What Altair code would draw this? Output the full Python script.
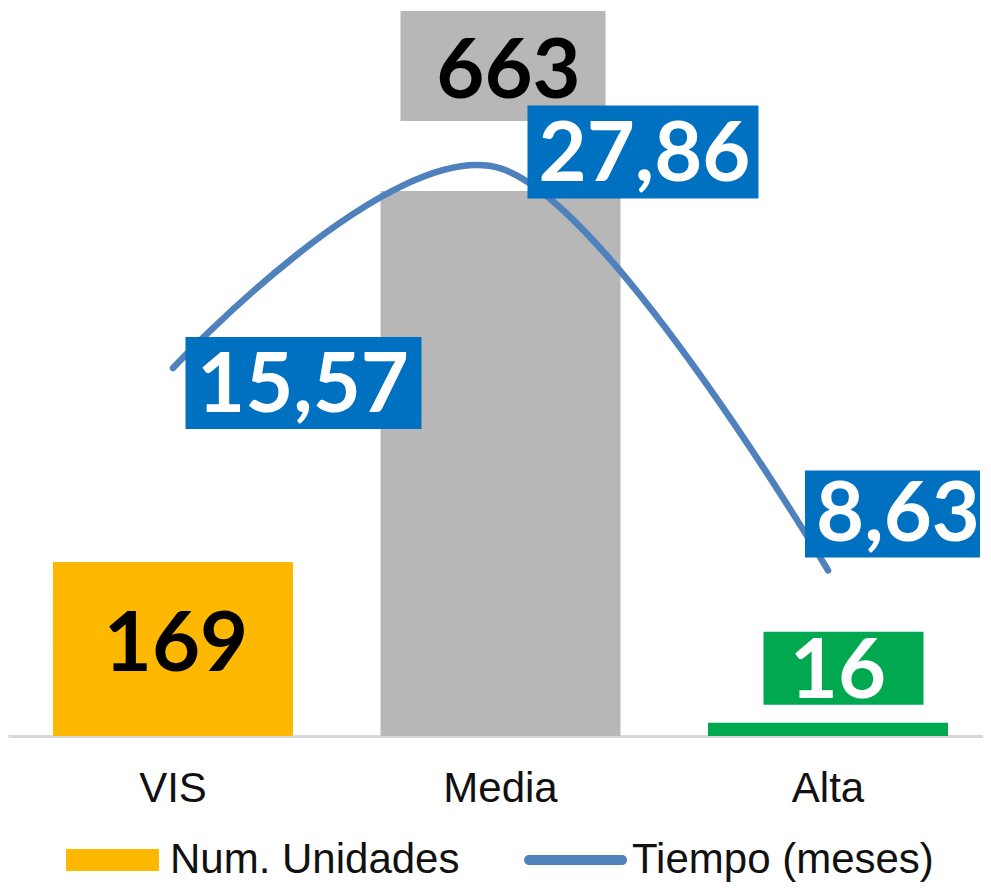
import altair as alt
import pandas as pd

# ---------------- data ----------------
categorias = ["VIS", "Media", "Alta"]
num_unidades = [169, 663, 16]
tiempo_meses = [15.57, 27.86, 8.63]
texto_unidades = ["169", "663", "16"]
texto_tiempo = ["15,57", "27,86", "8,63"]
colores_barras = ["#FFB800", "#B7B7B7", "#00A850"]
series = ["Num. Unidades", "Tiempo (meses)"]
colores_series = ["#FFB800", "#4F81BD"]

df = pd.DataFrame({
    "idx": list(range(len(categorias))),
    "categoria": categorias,
    "unidades": num_unidades,
    "meses": tiempo_meses,
    "txt_u": texto_unidades,
    "txt_m": texto_tiempo,
    "color": colores_barras,
})

# legend-only rows (drawn outside the plot and clipped away)
df_ley = pd.DataFrame({"serie": series, "categoria": ["VIS", "VIS"], "unidades": [-1000, -1000]})

# ---------------- styles (label boxes, offsets in px) ----------------
est_unid = [
    dict(bx=0, bw=240, top=-35, bot=45, tx=3, ty=74, col="#000000"),
    dict(bx=2.5, bw=205, top=-180, bot=-70, tx=8, ty=-93, col="#000000"),
    dict(bx=15.5, bw=160, top=-91, bot=-18, tx=10, ty=-25, col="#FFFFFF"),
]
est_mes = [
    dict(bx=130.5, bw=236, top=-31, bot=61, tx=130, ty=44),
    dict(bx=142.5, bw=231, top=-63, bot=30, tx=144, ty=13),
    dict(bx=64.5, bw=175, top=-100, bot=-13, tx=70, ty=-29),
]
AZUL_ETQ = "#0070C0"
FUENTE_ETQ = "Lato"
TAM_ETQ = 83

x_enc = alt.X(
    "categoria:N",
    sort=categorias,
    scale=alt.Scale(paddingInner=0.2672, paddingOuter=0.1221, align=0.5625),
    axis=alt.Axis(
        title=None, labelAngle=0, labelFont="Liberation Sans", labelFontSize=42,
        labelColor="#111111", labelPadding=32, ticks=False, tickSize=0,
        domainColor="#D9D9D9", domainWidth=3, grid=False,
    ),
)
y_u = alt.Y("unidades:Q", scale=alt.Scale(domain=[0, 882], nice=False, zero=True), axis=None)
y_m = alt.Y("meses:Q", scale=alt.Scale(type="log", domain=[5.326, 44.09], nice=False), axis=None)

barras = alt.Chart(df).mark_bar(strokeWidth=0).encode(
    x=x_enc, y=y_u, fill=alt.Fill("color:N", scale=None)
)

capas_barras = [barras]
for i, st in enumerate(est_unid):
    base = alt.Chart(df).transform_filter(alt.datum.categoria == categorias[i])
    caja = base.mark_bar(width=st["bw"], xOffset=st["bx"], yOffset=st["top"], y2Offset=st["bot"],
                         strokeWidth=0).encode(
        x=x_enc, y=y_u, y2=alt.Y2("unidades:Q"), fill=alt.Fill("color:N", scale=None)
    )
    txt = base.mark_text(dx=st["tx"], dy=st["ty"], baseline="alphabetic", align="center",
                         font=FUENTE_ETQ, fontWeight="bold", fontSize=TAM_ETQ, color=st["col"]).encode(
        x=x_enc, y=y_u, text="txt_u:N"
    )
    capas_barras += [caja, txt]

linea = alt.Chart(df).mark_line(interpolate="cardinal", tension=0, strokeWidth=6.5, strokeCap="round",
                                color="#4F81BD").encode(x=x_enc, y=y_m, order="idx:Q")
capas_linea = [linea]
for i, st in enumerate(est_mes):
    base = alt.Chart(df).transform_filter(alt.datum.categoria == categorias[i])
    caja = base.mark_bar(width=st["bw"], xOffset=st["bx"], yOffset=st["top"], y2Offset=st["bot"],
                         strokeWidth=0, color=AZUL_ETQ).encode(
        x=x_enc, y=y_m, y2=alt.Y2("meses:Q")
    )
    txt = base.mark_text(dx=st["tx"], dy=st["ty"], baseline="alphabetic", align="center",
                         font=FUENTE_ETQ, fontWeight="bold", fontSize=TAM_ETQ, color="#FFFFFF").encode(
        x=x_enc, y=y_m, text="txt_m:N"
    )
    capas_linea += [caja, txt]

simbolos = [
    "M-1.15,-0.55H3.5V0.55H-1.15Z",
    "M-1.1,-0.25H3.55A0.25,0.25 0 0 1 3.55,0.25H-1.1A0.25,0.25 0 0 1 -1.1,-0.25Z",
]
ley = dict(
    title=None, orient="none", legendX=60, legendY=828, direction="horizontal",
    labelFont="Liberation Sans", labelFontSize=42, labelColor="#111111", labelLimit=800,
    symbolSize=1600, symbolStrokeWidth=0, symbolOpacity=1, labelOffset=60,
    columnPadding=64, padding=0, rowPadding=0,
)
leyenda = alt.Chart(df_ley).mark_point(filled=True, opacity=1, clip=True).encode(
    x=x_enc, y=y_u,
    color=alt.Color("serie:N", scale=alt.Scale(domain=series, range=colores_series), legend=alt.Legend(**ley)),
    shape=alt.Shape("serie:N", scale=alt.Scale(domain=series, range=simbolos), legend=alt.Legend(**ley)),
)

chart = alt.layer(
    alt.layer(*capas_barras),
    alt.layer(*capas_linea),
    leyenda,
).resolve_scale(y="independent").properties(
    width=975, height=725,
    padding={"left": 0, "top": 3, "right": 0, "bottom": 149},
    autosize=alt.AutoSizeParams(type="none"),
    background="white",
).configure_view(stroke=None)

chart.save("out.html", embed_options={"renderer": "svg", "actions": False})
